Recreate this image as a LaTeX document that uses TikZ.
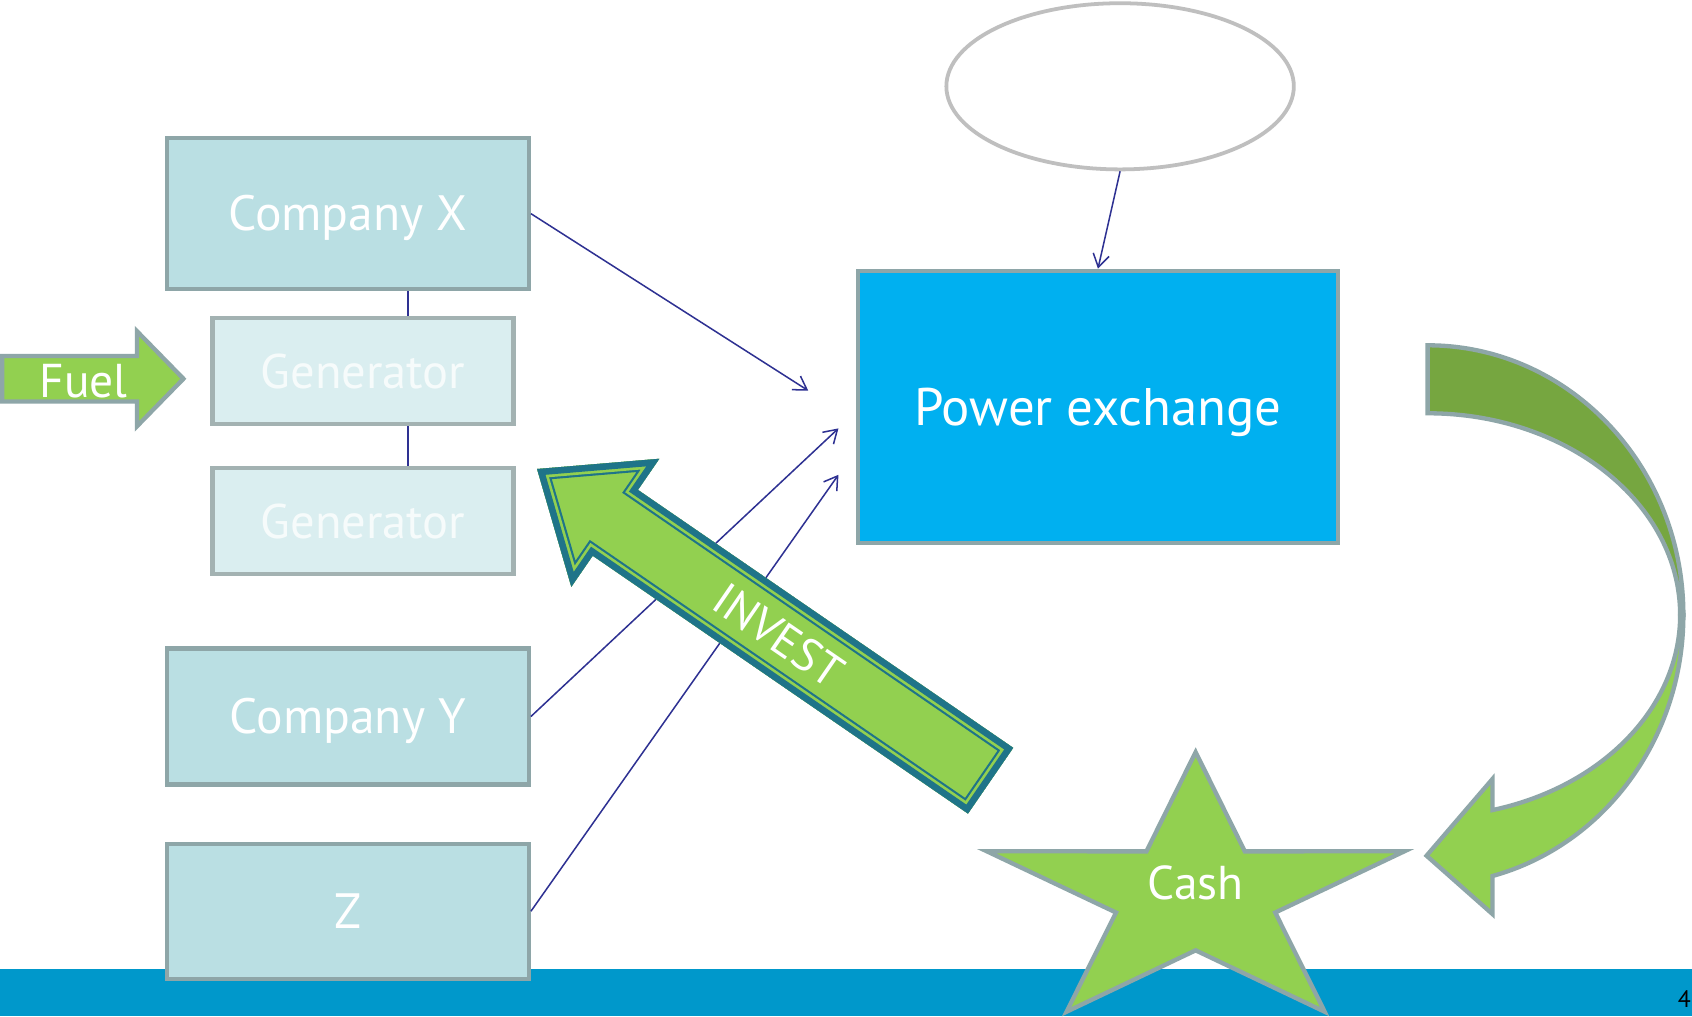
\documentclass[tikz,border=0pt]{standalone}
\usepackage{fontspec}
\setmainfont{PT Sans}
\usetikzlibrary{arrows.meta,calc,shapes.geometric}

\definecolor{boxfill}{RGB}{186,223,227}
\definecolor{boxline}{RGB}{142,166,168}
\definecolor{genfill}{RGB}{218,238,240}
\definecolor{genline}{RGB}{163,178,178}
\definecolor{pxfill}{RGB}{0,176,240}
\definecolor{ovalline}{RGB}{191,191,191}
\definecolor{leaf}{RGB}{146,208,80}
\definecolor{moss}{RGB}{118,166,64}
\definecolor{tealedge}{RGB}{31,116,137}
\definecolor{footer}{RGB}{0,152,203}
\definecolor{ink}{RGB}{46,49,146}

% outline of the INVEST block arrow, tail at the origin, pointing along +x
\newcommand\investshape{(0,-37) -- (422,-37) -- (422,-72) -- (510,0) -- (422,72) -- (422,37) -- (0,37) -- cycle}

\begin{document}
\begin{tikzpicture}[x=1pt,y=1pt,
  company/.style={draw=boxline, fill=boxfill, line width=4pt, inner sep=0pt,
    minimum width=335pt, text=white, font=\fontsize{46}{50}\selectfont,
    text height=32pt, text depth=0pt},
  genbox/.style={draw=genline, fill=genfill, line width=4pt, inner sep=0pt,
    minimum width=279pt, minimum height=98pt, text=white!75!genfill,
    font=\fontsize{45}{50}\selectfont, text height=31.5pt, text depth=0pt},
  link/.style={draw=ink, line width=1.6pt},
  feed/.style={draw=ink, line width=1.4pt,
    -{Straight Barb[length=12pt,width=15pt,line width=1.4pt]}},
  greyedge/.style={draw=boxline, line width=4pt, line join=miter},
  label/.style={text=white, inner sep=0pt, text depth=0pt},
]
\useasboundingbox (0,0) rectangle (1568,942);
\fill[white] (0,0) rectangle (1568,942);

% footer band and page number
\fill[footer] (0,0) rectangle (1568,44);
\node[anchor=base east, inner sep=0pt, font=\fontsize{22}{24}\selectfont] (pg) at (1567,8) {4};

% left column of companies and generators
\node[company, minimum height=140pt] (cx) at (322.5,744) {Company X};
\node[genbox] (g1) at (336.5,598) {Generator};
\node[genbox] (g2) at (336.5,459) {Generator};
\node[company, minimum height=126pt] (cy) at (322.5,278) {Company Y};
\node[company, minimum height=125pt] (cz) at (322.5,97.5) {Z};

\draw[link] ([xshift=55.5pt]cx.south) -- ([xshift=41.5pt]g1.north);
\draw[link] ([xshift=41.5pt]g1.south) -- ([xshift=41.5pt]g2.north);

% fuel input arrow
\draw[greyedge, fill=leaf] (2,570) -- (127,570) -- (127,547) -- (170,591)
  -- (127,635) -- (127,612) -- (2,612) -- cycle;
\node[label, anchor=base, font=\fontsize{44}{48}\selectfont] (fuel) at (77.5,574) {Fuel};

% exchange and the empty oval above it
\node[draw=boxline, fill=pxfill, line width=4pt, minimum width=445pt,
  minimum height=252pt, inner sep=0pt, text=white,
  font=\fontsize{49}{54}\selectfont, text height=34pt, text depth=0pt]
  (pe) at (1017.5,565) {Power exchange};
\node[draw=ovalline, fill=white, line width=3.5pt, ellipse, minimum width=322pt,
  minimum height=154pt, inner sep=0pt] (oval) at (1038,862) {};

% bids into the exchange
\coordinate (cxend) at (749,580);
\coordinate (cyend) at (777,545);
\coordinate (czend) at (777,502);
\draw[feed] (cx.east) -- (cxend);
\draw[feed] (cy.east) -- (cyend);
\draw[feed] (cz.east) -- (czend);
\draw[feed] (oval.south) -- (pe.north);

% INVEST block arrow with a thick-thin border
\coordinate (tail) at (918,218.5);
\begin{scope}[shift={(tail)}, rotate=145.5]
  \begin{scope}
    \clip \investshape;
    \fill[leaf] \investshape;
    \draw[tealedge, line width=21pt, line join=miter] \investshape;
    \draw[leaf, line width=17pt, line join=miter] \investshape;
    \draw[tealedge, line width=12pt, line join=miter] \investshape;
  \end{scope}
\end{scope}
\node[label, rotate=-34.5, font=\fontsize{43}{46}\selectfont]
  (invest) at ($(tail)+(145.5:238)$) {INVEST};

% curved return arrow: dark upper half, light lower half with head
\coordinate (hub) at (1323,372);
\draw[greyedge, fill=moss] ($(hub)+(90:237 and 250)$)
  arc[start angle=90, end angle=0, x radius=237, y radius=250]
  -- ($(hub)+(0:234 and 187)$)
  arc[start angle=0, end angle=90, x radius=234, y radius=187] -- cycle;
\draw[greyedge, fill=leaf] ($(hub)+(0:237 and 250)$)
  arc[start angle=0, end angle=-75.3, x radius=237, y radius=250]
  -- (1383,95) -- (1322,149) -- (1383,220)
  -- ($(hub)+(-75.1:234 and 187)$)
  arc[start angle=-75.1, end angle=0, x radius=234, y radius=187] -- cycle;

% cash star
\begin{scope}[shift={(1108,112)}, xscale=1.53]
  \draw[greyedge, fill=leaf] (90:133) -- (54:50.7) -- (18:133) -- (-18:50.7)
    -- (-54:133) -- (-90:50.7) -- (-126:133) -- (-162:50.7) -- (162:133)
    -- (126:50.7) -- cycle;
\end{scope}
\node[label, font=\fontsize{44}{48}\selectfont, text height=31pt] (cash) at (1108,124) {Cash};
\end{tikzpicture}
\end{document}
